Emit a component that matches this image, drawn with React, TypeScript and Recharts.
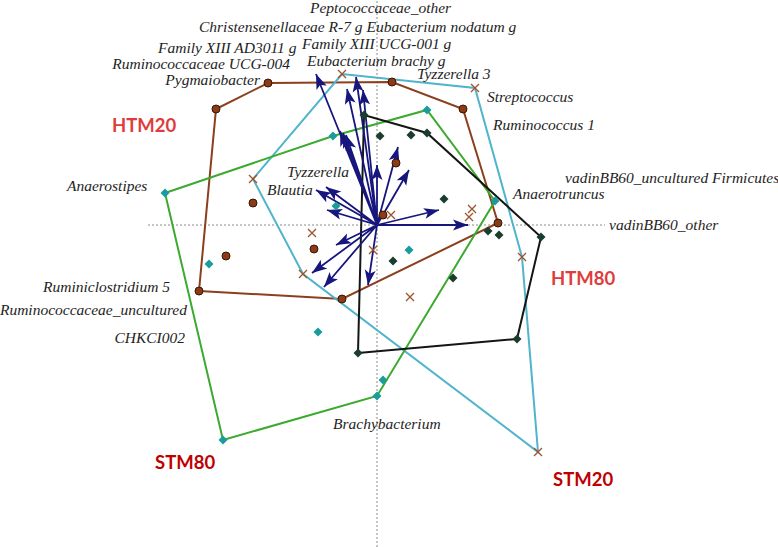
import { ScatterChart, Scatter, XAxis, YAxis, ReferenceLine } from 'recharts'

type Pt = { x: number; y: number }

// Ordination scores (axis 1 = x, axis 2 = y)
const htm20Samples: Pt[] = [
  { x: -16.1, y: 11.6 }, { x: -10.9, y: 14.2 }, { x: 1.5, y: 14.3 }, { x: 8.6, y: 11.6 },
  { x: 12.1, y: 0.2 }, { x: -3.5, y: -7.4 }, { x: -17.8, y: -6.6 }, { x: -12.4, y: 2.2 },
  { x: -15.1, y: -3.1 }, { x: -6.3, y: -2.4 }, { x: 0.6, y: 1.0 }, { x: 1.9, y: 6.2 },
]
const stm20Samples: Pt[] = [
  { x: -3.5, y: 15.1 }, { x: 9.8, y: 13.7 }, { x: 14.5, y: -3.2 }, { x: 16.1, y: -22.7 },
  { x: -7.4, y: -4.9 }, { x: -12.4, y: 4.6 }, { x: -6.5, y: -0.8 }, { x: 1.4, y: 1.0 },
  { x: -0.4, y: -2.5 }, { x: 9.5, y: 1.6 }, { x: 9.2, y: 0.8 }, { x: 3.3, y: -7.2 },
]
const stm80Samples: Pt[] = [
  { x: -21.2, y: 3.2 }, { x: -4.4, y: 8.9 }, { x: 5.0, y: 11.5 }, { x: 11.8, y: 2.4 },
  { x: 0.0, y: -17.1 }, { x: 0.6, y: -15.5 }, { x: -15.4, y: -21.5 }, { x: -4.1, y: 1.9 },
  { x: -16.8, y: -3.9 }, { x: 3.2, y: -2.5 }, { x: -5.9, y: -10.7 },
]
const htm80Samples: Pt[] = [
  { x: -1.3, y: 11.0 }, { x: 5.0, y: 9.2 }, { x: 16.4, y: -1.2 }, { x: 14.0, y: -11.4 },
  { x: -1.9, y: -12.8 }, { x: 0.3, y: 8.9 }, { x: 3.4, y: 9.0 }, { x: 6.7, y: 2.6 },
  { x: 11.1, y: -0.6 }, { x: 12.2, y: -1.0 }, { x: 1.6, y: -3.6 }, { x: 7.6, y: -5.3 },
]

// taxa vectors (arrow tips)
const taxaVectors: Pt[] = [
  { x: -6.1, y: 15.1 }, { x: -3.0, y: 13.6 }, { x: -2.1, y: 14.8 }, { x: -1.4, y: 13.5 },
  { x: -3.7, y: 9.4 }, { x: -3.4, y: 9.2 }, { x: -3.1, y: 9.0 }, { x: 0.0, y: 6.0 },
  { x: 2.1, y: 7.8 }, { x: 3.2, y: 5.5 }, { x: 6.2, y: 1.5 }, { x: 9.1, y: 0.0 },
  { x: -0.9, y: -6.0 }, { x: -6.1, y: 3.5 }, { x: -5.1, y: 3.8 }, { x: -5.0, y: 1.5 },
  { x: -4.1, y: -2.0 }, { x: -6.5, y: -4.8 }, { x: -5.3, y: -6.2 },
]

// taxa names and where they sit
const taxaLabels = [
  { name: 'Peptococcaceae_other', x: -6.7, y: 21.8, anchor: 'start' },
  { name: 'Christensenellaceae R-7 g Eubacterium nodatum g', x: -17.8, y: 19.9, anchor: 'start' },
  { name: 'Family XIII AD3011 g', x: -21.9, y: 17.8, anchor: 'start' },
  { name: 'Family XIII UCG-001 g', x: -7.5, y: 18.2, anchor: 'start' },
  { name: 'Ruminococcaceae UCG-004', x: -8.7, y: 16.2, anchor: 'end' },
  { name: 'Eubacterium brachy g', x: -7.0, y: 16.5, anchor: 'start' },
  { name: 'Pygmaiobacter', x: -11.7, y: 14.6, anchor: 'end' },
  { name: 'Tyzzerella 3', x: 4.0, y: 15.2, anchor: 'start' },
  { name: 'Streptococcus', x: 11.0, y: 12.9, anchor: 'start' },
  { name: 'Ruminococcus 1', x: 11.6, y: 10.1, anchor: 'start' },
  { name: 'vadinBB60_uncultured Firmicutes', x: 18.8, y: 4.8, anchor: 'start' },
  { name: 'Anaerotruncus', x: 13.6, y: 3.2, anchor: 'start' },
  { name: 'vadinBB60_other', x: 23.2, y: 0.1, anchor: 'start' },
  { name: 'Tyzzerella', x: -9.0, y: 5.4, anchor: 'start' },
  { name: 'Blautia', x: -11.0, y: 3.6, anchor: 'start' },
  { name: 'Anaerostipes', x: -31.0, y: 4.0, anchor: 'start' },
  { name: 'Ruminiclostridium 5', x: -20.7, y: -6.1, anchor: 'end' },
  { name: 'Ruminococcaceae_uncultured', x: -19.0, y: -8.4, anchor: 'end' },
  { name: 'CHKCI002', x: -19.2, y: -11.2, anchor: 'end' },
  { name: 'Brachybacterium', x: -4.4, y: -19.8, anchor: 'start' },
]

const groupLabels = [
  { name: 'HTM20', x: -26.5, y: 10.0, color: '#e03c3c' },
  { name: 'HTM80', x: 17.4, y: -5.3, color: '#e03c3c' },
  { name: 'STM80', x: -22.2, y: -23.7, color: '#c00000' },
  { name: 'STM20', x: 17.6, y: -25.4, color: '#c00000' },
]

// monotone chain hull, closed for drawing
const hull = (pts: Pt[]): Pt[] => {
  const p = [...pts].sort((a, b) => a.x - b.x || a.y - b.y)
  const cross = (o: Pt, a: Pt, b: Pt) => (a.x - o.x) * (b.y - o.y) - (a.y - o.y) * (b.x - o.x)
  const lower: Pt[] = []
  for (const q of p) {
    while (lower.length >= 2 && cross(lower[lower.length - 2], lower[lower.length - 1], q) <= 0) lower.pop()
    lower.push(q)
  }
  const upper: Pt[] = []
  for (const q of [...p].reverse()) {
    while (upper.length >= 2 && cross(upper[upper.length - 2], upper[upper.length - 1], q) <= 0) upper.pop()
    upper.push(q)
  }
  const h = lower.slice(0, -1).concat(upper.slice(0, -1))
  return [...h, h[0]]
}

const arrowPath = taxaVectors.flatMap((t) => [{ x: 0, y: 0, tip: false }, { ...t, tip: true }])

const NAVY = '#16167e'
const none = () => <g />

const BrownDot = ({ cx, cy }: any) => (
  <circle cx={cx} cy={cy} r={4} fill="#8b3b16" stroke="#3a1505" strokeWidth={1} />
)
const Cross = ({ cx, cy }: any) => (
  <path d={`M${cx - 4},${cy - 4}L${cx + 4},${cy + 4}M${cx - 4},${cy + 4}L${cx + 4},${cy - 4}`} stroke="#a0522d" strokeWidth={1.3} fill="none" />
)
const diamond = (fill: string, s: number) => ({ cx, cy }: any) => (
  <path d={`M${cx},${cy - s}L${cx + s},${cy}L${cx},${cy + s}L${cx - s},${cy}Z`} fill={fill} />
)

const ArrowHead = ({ cx, cy, payload }: any) => {
  if (!payload.tip) return <g />
  const a = (Math.atan2(-payload.y, payload.x) * 180) / Math.PI
  return (
    <path
      transform={`translate(${cx},${cy}) rotate(${a})`}
      d="M0,0L-15,-5.5L-11.5,0L-15,5.5Z"
      fill={NAVY}
    />
  )
}

const TaxonText = ({ cx, cy, payload }: any) => (
  <text x={cx} y={cy} textAnchor={payload.anchor} dominantBaseline="central"
    fontFamily="'Liberation Serif', serif" fontStyle="italic" fontSize={15.5} fill="#1e1e1e">
    {payload.name}
  </text>
)

const GroupText = ({ cx, cy, payload }: any) => (
  <text x={cx} y={cy} dominantBaseline="central" fontFamily="Lato, 'Liberation Sans', sans-serif"
    fontWeight={700} fontSize={18.5} fill={payload.color}>
    {payload.name}
  </text>
)

export default function App() {
  return (
    <div style={{ position: 'absolute', left: 0, top: 0, width: 778, height: 547, background: '#fff' }}>
      <ScatterChart width={778} height={547} margin={{ top: 0, right: 0, bottom: 0, left: 0 }}>
        <XAxis type="number" dataKey="x" domain={[-37.7, 40.1]} hide />
        <YAxis type="number" dataKey="y" domain={[-32.2, 22.5]} hide />
        <ReferenceLine segment={[{ x: -22.9, y: 0 }, { x: 22.8, y: 0 }]} stroke="#8a8a8a" strokeDasharray="2 2" />
        <ReferenceLine x={0} stroke="#8a8a8a" strokeDasharray="2 2" />

        <Scatter data={hull(htm20Samples)} line={{ stroke: '#8b3f1c', strokeWidth: 2 }} shape={none} isAnimationActive={false} />
        <Scatter data={hull(stm20Samples)} line={{ stroke: '#4fb4cc', strokeWidth: 2 }} shape={none} isAnimationActive={false} />
        <Scatter data={hull(stm80Samples)} line={{ stroke: '#3caa2e', strokeWidth: 2 }} shape={none} isAnimationActive={false} />
        <Scatter data={hull(htm80Samples)} line={{ stroke: '#151515', strokeWidth: 2 }} shape={none} isAnimationActive={false} />

        <Scatter data={arrowPath} line={{ stroke: NAVY, strokeWidth: 1.8 }} shape={ArrowHead} isAnimationActive={false} />

        <Scatter data={htm20Samples} shape={BrownDot} isAnimationActive={false} />
        <Scatter data={stm20Samples} shape={Cross} isAnimationActive={false} />
        <Scatter data={stm80Samples} shape={diamond('#1b9c9c', 4.5)} isAnimationActive={false} />
        <Scatter data={htm80Samples} shape={diamond('#1b3d2c', 4.5)} isAnimationActive={false} />

        <Scatter data={taxaLabels} shape={TaxonText} isAnimationActive={false} />
        <Scatter data={groupLabels} shape={GroupText} isAnimationActive={false} />
      </ScatterChart>
    </div>
  )
}
